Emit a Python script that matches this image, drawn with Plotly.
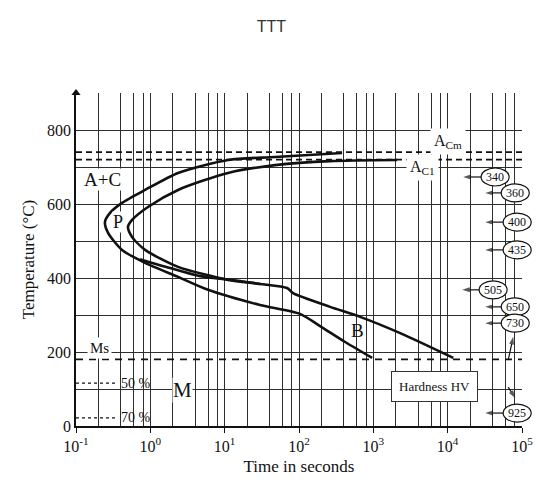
import numpy as np
import plotly.graph_objects as go

# ---- data ----
start_time = [380, 47.7, 11.1, 2.36, 0.85, 0.416, 0.287, 0.245, 0.27, 0.416, 0.85,
              2.36, 5.98, 29.9, 103, 192, 417, 964]
start_temp = [738, 727, 719, 684, 638, 603, 576, 551, 522, 476, 441,
              403, 368, 327, 303, 270, 227, 184]

end_time = [2090, 262, 47.7, 11.1, 2.36, 0.93, 0.568, 0.50, 0.568, 0.85, 2.36,
            11.1, 29.9, 69.2, 83.3, 262, 664, 2300, 11900]
end_temp = [719, 716, 705, 684, 638, 592, 557, 538, 511, 476, 430,
            395, 384, 373, 359, 322, 295, 251, 184]

mid_time = [0.726, 1.84, 4.67, 16.1, 29.9]
mid_temp = [451, 427, 405, 392, 384]

acm_temp = 740
ac1_temp = 720
ms_temp = 180
time_span = [0.1, 1e5]

pct_labels = ["50 %", "70 %"]
pct_temp = [116, 22]
pct_line_time = [0.1, 0.335]
pct_text_time = 0.64

hv_values = [340, 360, 400, 435, 505, 650, 730, 925]
hv_temp = [673, 630, 551, 476, 368, 322, 278, 35]
hv_time = [43500, 81100, 86100, 86100, 40900, 81100, 81100, 86100]
hv_head_time = [16200, 32000, 32000, 32000, 15700, 32000, 32000, 32000]

# small cooling arrows near the right edge: (tail time, tail temp, head time, head temp)
cool_arrows = [(65200, 178, 76200, 241), (65200, 105, 81100, 76)]

x_tickvals = [0.1, 1, 10, 100, 1000, 10000, 100000]
x_ticktext = ["10<sup>-1</sup>", "10<sup>0</sup>", "10<sup>1</sup>", "10<sup>2</sup>",
              "10<sup>3</sup>", "10<sup>4</sup>", "10<sup>5</sup>"]
x_minor = [m * 10.0 ** k for k in range(-1, 5) for m in (2, 4, 6, 8)]
y_tickvals = [0, 200, 400, 600, 800]
y_minor = [100, 300, 500, 700, 900]

X_RANGE = [-1, 5]   # log10 of time
Y_RANGE = [0, 900]

SERIF = "Liberation Serif"
INK = "#111111"
GRID = "#2e2e2e"

fig = go.Figure()

def line_trace(x, y, width, dash=None):
    fig.add_trace(go.Scatter(x=x, y=y, mode="lines",
                             line=dict(color=INK, width=width, dash=dash),
                             hoverinfo="skip", showlegend=False))

def arrow_trace(x, y):
    fig.add_trace(go.Scatter(x=x, y=y, mode="lines+markers", cliponaxis=False,
                             line=dict(color=INK, width=1.2),
                             marker=dict(symbol=["circle", "arrow"], size=[0, 8],
                                         angleref="previous", color=INK, line=dict(width=0)),
                             hoverinfo="skip", showlegend=False))

# dashed reference lines
for T in (acm_temp, ac1_temp):
    line_trace(time_span, [T, T], 1.7, "6px,4px")
line_trace(time_span, [ms_temp, ms_temp], 1.7, "7px,6px")
for T in pct_temp:
    line_trace(pct_line_time, [T, T], 1.2, "dot")

# transformation curves
for tx, ty in [(start_time, start_temp), (end_time, end_temp), (mid_time, mid_temp)]:
    fig.add_trace(go.Scatter(x=tx, y=ty, mode="lines",
                             line=dict(color=INK, width=2.6, shape="spline", smoothing=0.7),
                             hoverinfo="skip", showlegend=False))

ann = []
def txt(t, T, s, size=15, bg="white", **kw):
    d = dict(x=np.log10(t), y=T, xref="x", yref="y", text=s, showarrow=False,
             font=dict(family=SERIF, size=size, color=INK), bgcolor=bg, borderpad=0)
    d.update(kw)
    ann.append(d)

txt(0.23, 665, "A+C", size=19)
txt(0.367, 551, "P", size=18)
txt(605, 259, "B", size=19, bg="rgba(0,0,0,0)")
txt(2.67, 97, "M", size=21)
txt(0.21, 212, "Ms", size=15, borderpad=2)
for lab, T in zip(pct_labels, pct_temp):
    txt(pct_text_time, T, lab, size=14, bg="rgba(0,0,0,0)")
txt(10200, 768, "A<sub>Cm</sub>", size=16, borderpad=3)
txt(4540, 700, "A<sub>C1</sub>", size=16, borderpad=3)
txt(6580, 108, "Hardness HV", size=13, bordercolor="#333", borderwidth=1, borderpad=7)

# hardness ellipses (placed in paper fractions derived from the axis ranges)
def xfrac(t):
    return (np.log10(t) - X_RANGE[0]) / (X_RANGE[1] - X_RANGE[0])
def yfrac(T):
    return (T - Y_RANGE[0]) / (Y_RANGE[1] - Y_RANGE[0])

EW, EH = 14 / 446, 9 / 333   # half width / half height of an ellipse (fraction of plot)
shapes = []
for v, T, t, h in zip(hv_values, hv_temp, hv_time, hv_head_time):
    cx, cy = xfrac(t), yfrac(T)
    shapes.append(dict(type="circle", xref="paper", yref="paper",
                       x0=cx - EW, x1=cx + EW, y0=cy - EH, y1=cy + EH,
                       line=dict(color=INK, width=1.2), fillcolor="white", layer="above"))
    ann.append(dict(x=np.log10(t), y=T, xref="x", yref="y", text=str(v), showarrow=False,
                    font=dict(family=SERIF, size=12, color=INK)))
    arrow_trace([t / 10 ** 0.19, h], [T, T])

for t0, T0, t1, T1 in cool_arrows:
    arrow_trace([t0, t1], [T0, T1])

# arrow at the top of the temperature axis
fig.add_trace(go.Scatter(x=[time_span[0]], y=[Y_RANGE[1]], mode="markers", cliponaxis=False,
                         marker=dict(symbol="triangle-up", size=8, color=INK),
                         hoverinfo="skip", showlegend=False))

# page body has an 8px default margin: offsets below compensate for it
fig.update_layout(
    width=543, height=484,
    margin=dict(l=68, r=29, t=85, b=66),
    paper_bgcolor="white", plot_bgcolor="white",
    title=dict(text="TTT", x=0.485, xref="container", y=0.961, yref="container",
               xanchor="center", yanchor="middle",
               font=dict(family="Liberation Sans", size=16, color="#333333")),
    annotations=ann, shapes=shapes,
    xaxis=dict(type="log", range=X_RANGE, tickmode="array", tickvals=x_tickvals,
               ticktext=x_ticktext, showgrid=True, gridcolor=GRID, gridwidth=1.3,
               ticks="outside", ticklen=5, tickcolor=INK, showline=True, linecolor=INK,
               linewidth=1.5, zeroline=False,
               tickfont=dict(family=SERIF, size=16, color=INK),
               minor=dict(tickmode="array", tickvals=x_minor, showgrid=True,
                          gridcolor=GRID, gridwidth=1.3, ticklen=0),
               title=dict(text="Time in seconds", standoff=6,
                          font=dict(family=SERIF, size=17, color=INK))),
    yaxis=dict(range=Y_RANGE, tickmode="array", tickvals=y_tickvals,
               showgrid=True, gridcolor=GRID, gridwidth=1.3, ticks="", showline=True,
               linecolor=INK, linewidth=1.5, zeroline=False,
               tickfont=dict(family=SERIF, size=16, color=INK),
               minor=dict(tickmode="array", tickvals=y_minor, showgrid=True,
                          gridcolor=GRID, gridwidth=1.3, ticklen=0),
               title=dict(text="Temperature (°C)", standoff=8,
                          font=dict(family=SERIF, size=17, color=INK))),
)

fig.write_html("out.html")
